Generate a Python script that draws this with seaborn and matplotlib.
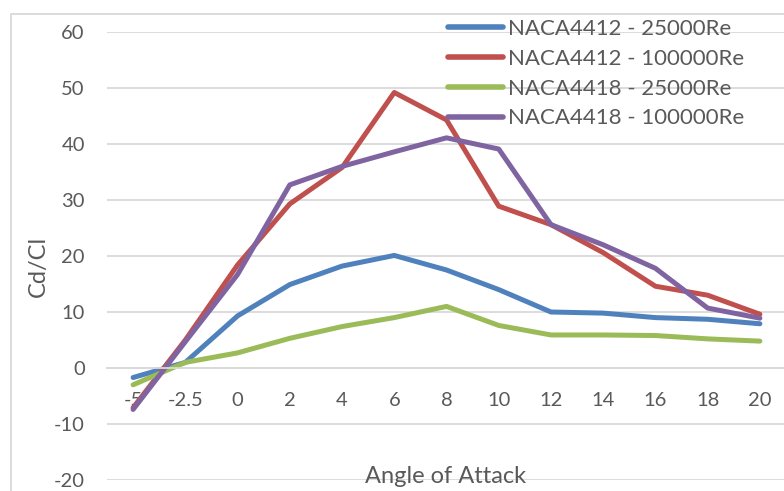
import matplotlib
matplotlib.use("Agg")
import matplotlib.pyplot as plt
import seaborn as sns
import pandas as pd
from matplotlib.patches import Rectangle

angles = ["-5", "-2.5", "0", "2", "4", "6", "8", "10", "12", "14", "16", "18", "20"]
naca4412_25k = [-1.7, 1.0, 9.3, 14.9, 18.2, 20.1, 17.5, 14.0, 10.0, 9.8, 9.0, 8.7, 7.9]
naca4412_100k = [-7.1, 5.0, 18.4, 29.3, 35.8, 49.2, 44.3, 28.9, 25.6, 20.6, 14.6, 13.0, 9.6]
naca4418_25k = [-3.0, 1.0, 2.7, 5.3, 7.4, 9.0, 11.0, 7.6, 5.9, 5.9, 5.8, 5.2, 4.8]
naca4418_100k = [-7.4, 4.7, 16.7, 32.7, 36.0, 38.6, 41.1, 39.1, 25.6, 22.0, 17.8, 10.7, 8.9]
series_names = ["NACA4412 - 25000Re", "NACA4412 - 100000Re",
                "NACA4418 - 25000Re", "NACA4418 - 100000Re"]
colors = ["#4F81BD", "#C0504D", "#9BBB59", "#8064A2"]

rows = []
for name, vals in zip(series_names, [naca4412_25k, naca4412_100k, naca4418_25k, naca4418_100k]):
    for a, v in zip(angles, vals):
        rows.append({"Angle": a, "Value": v, "Series": name})
df = pd.DataFrame(rows)

sns.set_theme(style="white")
plt.rcParams["font.family"] = ["Lato", "DejaVu Sans"]
plt.rcParams["axes.unicode_minus"] = False

W, H = 784, 491
fig = plt.figure(figsize=(W / 100, H / 100), dpi=100)
left, right, top, bottom = 107, 786, 32, 480
ax = fig.add_axes([left / W, 1 - bottom / H, (right - left) / W, (bottom - top) / H])

sns.lineplot(data=df, x="Angle", y="Value", hue="Series", palette=colors,
             linewidth=3.6, ax=ax, sort=False, legend=True)

ax.set_ylim(-20, 60)
ax.set_xlim(-0.5, 12.5)
ax.set_yticks(range(-20, 61, 10))
ax.yaxis.grid(True, color="#D9D9D9", linewidth=1.3)
ax.xaxis.grid(False)
for s in ["left", "right", "top"]:
    ax.spines[s].set_visible(False)
ax.spines["bottom"].set_position(("data", 0))
ax.spines["bottom"].set_color("#D9D9D9")
ax.spines["bottom"].set_linewidth(1.3)
ax.tick_params(axis="x", length=0, pad=17, labelsize=14.5, labelcolor="#595959")
ax.tick_params(axis="y", length=0, pad=16, labelsize=14.5, labelcolor="#595959")
ax.set_xlabel("")
ax.set_ylabel("")

fig.text(446 / W, 1 - 483 / H, "Angle of Attack", ha="center", va="baseline",
         fontsize=17, color="#595959")
fig.text(38 / W, 1 - 266 / H, "Cd/Cl", ha="center", va="center", rotation=90,
         fontsize=17, color="#595959")

handles, labels = ax.get_legend_handles_labels()
leg = ax.legend(handles, labels, loc="upper left", frameon=False,
                bbox_to_anchor=(448 / W, 1 - 19 / H), bbox_transform=fig.transFigure,
                fontsize=16, handlelength=2.48, handletextpad=0.22,
                labelspacing=0.44, borderaxespad=0, borderpad=0)
for t in leg.get_texts():
    t.set_color("#595959")
for l in leg.get_lines():
    l.set_linewidth(4.0)

fig.patches.append(Rectangle((10.5 / W, -0.1), 1.2, 1 - 14 / H + 0.1,
                             transform=fig.transFigure, fill=False,
                             edgecolor="#D9D9D9", linewidth=1.3))

fig.savefig("out.png", dpi=100)
